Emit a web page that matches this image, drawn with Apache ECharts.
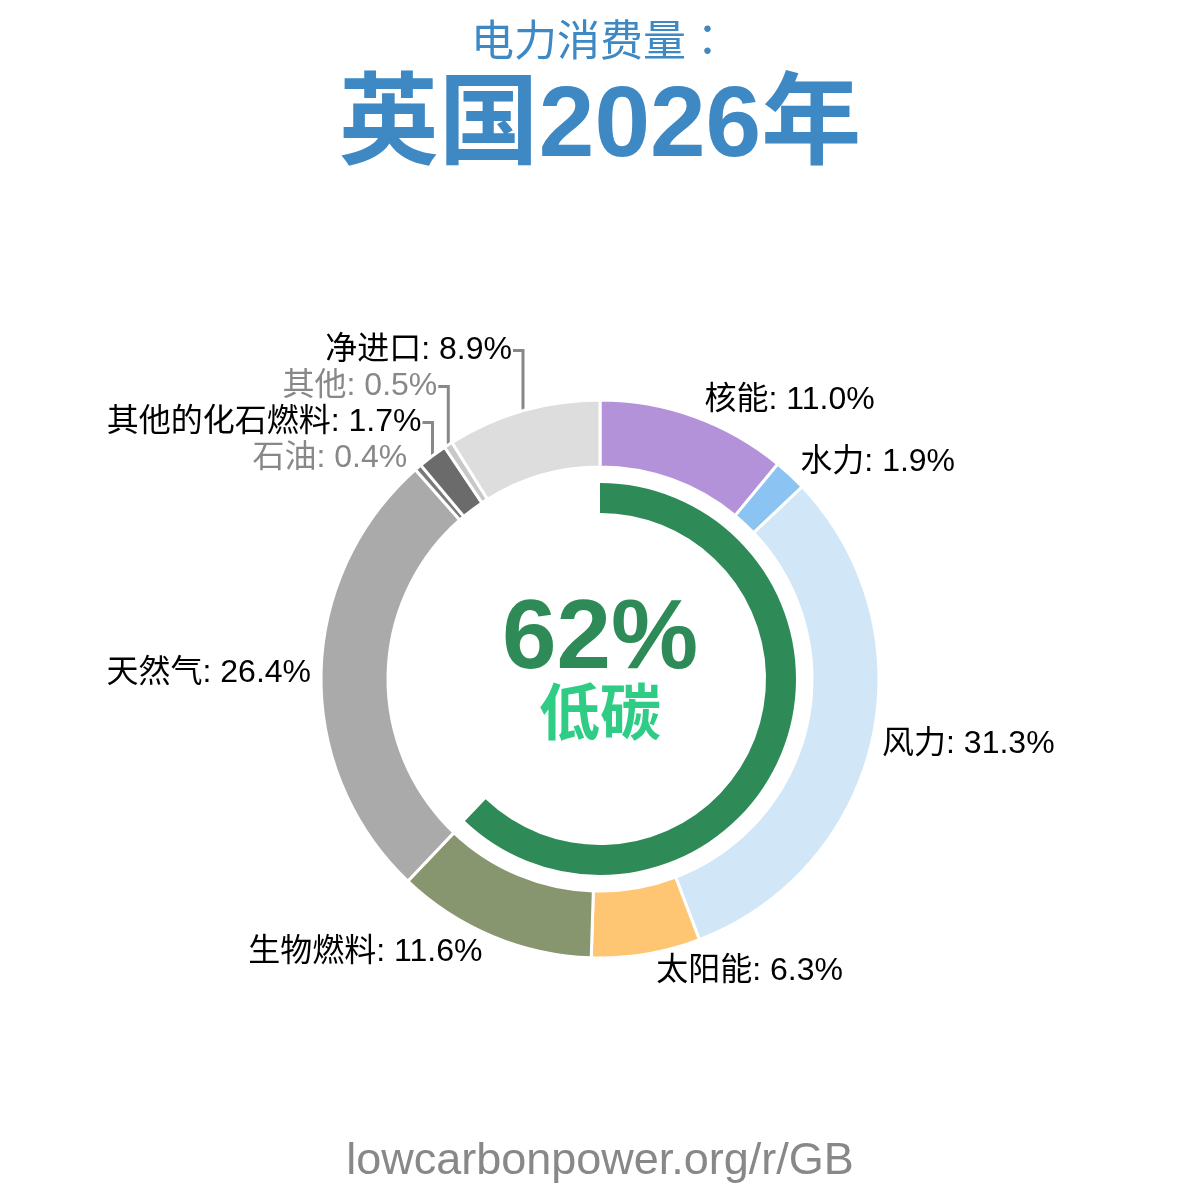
<!DOCTYPE html>
<html>
<head>
<meta charset="utf-8">
<script src="https://cdn.jsdelivr.net/npm/echarts@6/dist/echarts.min.js"></script>
<style>
html, body { margin: 0; background: #fff; }
#chart { width: 1200px; height: 1200px; }
</style>
</head>
<body>
<div id="chart"></div>
<script>
// electricity consumption mix, UK 2026 (%)
var sources = ['核能', '水力', '风力', '太阳能', '生物燃料', '天然气', '石油', '其他的化石燃料', '其他', '净进口'];
var shares = [11.0, 1.9, 31.3, 6.3, 11.6, 26.4, 0.4, 1.7, 0.5, 8.9];
var lowCarbonSources = ['核能', '水力', '风力', '太阳能', '生物燃料'];
// small slices whose labels are stacked with elbow lines, bottom to top
var stackedLabels = ['石油', '其他的化石燃料', '其他', '净进口'];
var mutedLabels = ['石油', '其他'];

var colors = ['#b392da', '#8bc4f2', '#d1e6f7', '#fec573', '#889670', '#aaaaaa', '#7a7a7a', '#6b6b6b', '#c8c8c8', '#dddddd'];
var FONT = '"Liberation Sans", "Noto Sans CJK SC", sans-serif';

var lowCarbon = 0;
sources.forEach(function (s, i) {
    if (lowCarbonSources.indexOf(s) >= 0) lowCarbon += shares[i];
});

var cx = 600, cy = 679, rOuter = 279, rInner = 212;
var total = shares.reduce(function (a, b) { return a + b; }, 0);

// point on the outer edge at the middle of a slice (clockwise from 12 o'clock)
function outerPoint(idx) {
    var before = 0;
    for (var i = 0; i < idx; i++) before += shares[i];
    var a = (before + shares[idx] / 2) / total * Math.PI * 2;
    return { x: cx + rOuter * Math.sin(a), y: cy - rOuter * Math.cos(a), dx: Math.sin(a), dy: -Math.cos(a) };
}

var pieData = sources.map(function (s, i) {
    var k = stackedLabels.indexOf(s);
    return {
        name: s,
        value: shares[i],
        itemStyle: { color: colors[i] },
        label: { color: mutedLabels.indexOf(s) >= 0 ? '#888' : '#000' },
        labelLine: { show: k > 0 }
    };
});

var chart = echarts.init(document.getElementById('chart'));

chart.setOption({
    animation: false,
    series: [{
        type: 'pie',
        center: [cx, cy],
        radius: [rInner, rOuter],
        startAngle: 90,
        clockwise: true,
        silent: true,
        avoidLabelOverlap: false,
        itemStyle: { borderColor: '#fff', borderWidth: 3 },
        label: {
            show: true,
            position: 'outside',
            fontFamily: FONT,
            fontSize: 32,
            formatter: function (p) { return p.name + ': ' + p.value.toFixed(1) + '%'; }
        },
        labelLine: { length: 10, length2: 0, lineStyle: { color: '#888', width: 3 } },
        labelLayout: function (p) {
            var idx = p.dataIndex;
            var pt = outerPoint(idx);
            var k = stackedLabels.indexOf(sources[idx]);
            if (k >= 0) {
                var base = outerPoint(sources.indexOf(stackedLabels[0]));
                var y = base.y - 9 - 36 * k;
                return {
                    x: pt.x - 11, y: y, align: 'right', verticalAlign: 'middle',
                    labelLinePoints: [[pt.x, pt.y], [pt.x, y], [pt.x - 10, y]]
                };
            }
            return {
                x: pt.x + (pt.dx >= 0 ? 10 : -10),
                y: pt.y + pt.dy * 17,
                align: pt.dx >= 0 ? 'left' : 'right',
                verticalAlign: 'middle'
            };
        },
        data: pieData
    }, {
        type: 'pie',
        center: [cx, cy],
        radius: [166, 196],
        startAngle: 90,
        clockwise: true,
        silent: true,
        label: { show: false },
        labelLine: { show: false },
        data: [
            { value: lowCarbon, itemStyle: { color: '#2e8b57' } },
            { value: total - lowCarbon, itemStyle: { color: 'rgba(0,0,0,0)' } }
        ]
    }],
    graphic: [
        { type: 'text', x: 600, y: 40, style: { text: '电力消费量：', align: 'center', verticalAlign: 'middle', fontFamily: '"Noto Sans CJK JP", sans-serif', fontSize: 43, fill: '#3e89c3' } },
        { type: 'text', x: 600, y: 128, style: { text: '英国2026年', align: 'center', verticalAlign: 'middle', fontFamily: FONT, fontSize: 100, fontWeight: 'bold', fill: '#3e89c3' } },
        { type: 'text', x: 600, y: 641, style: { text: Math.round(lowCarbon) + '%', align: 'center', verticalAlign: 'middle', fontFamily: FONT, fontSize: 98, fontWeight: 'bold', fill: '#2e8b57' } },
        { type: 'text', x: 600, y: 718, style: { text: '低碳', align: 'center', verticalAlign: 'middle', fontFamily: FONT, fontSize: 61, fontWeight: 'bold', fill: '#2ecc85' } },
        { type: 'text', x: 600, y: 1162, style: { text: 'lowcarbonpower.org/r/GB', align: 'center', verticalAlign: 'middle', fontFamily: FONT, fontSize: 45, fill: '#888' } }
    ]
});
</script>
</body>
</html>
